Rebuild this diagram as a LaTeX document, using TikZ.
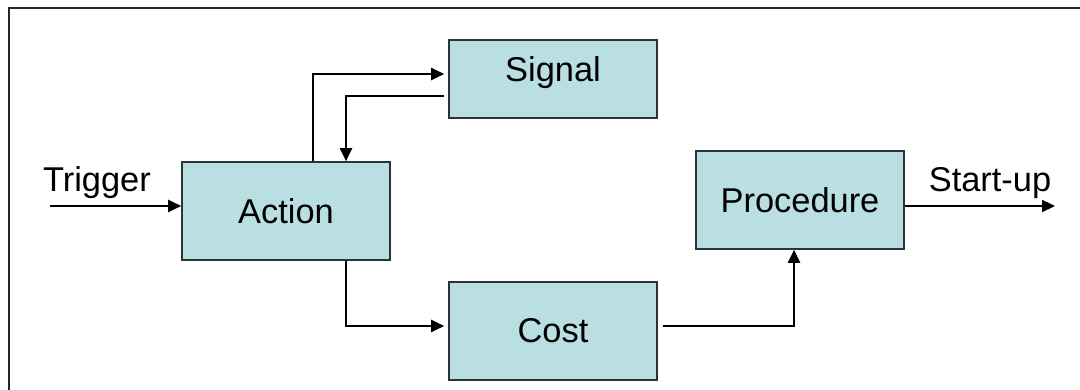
\documentclass[tikz,border=0pt]{standalone}
\usepackage{fontspec}
\setmainfont{Liberation Sans}
\usetikzlibrary{arrows.meta}
\usepackage{xcolor}
\definecolor{boxfill}{RGB}{186,223,227}
\definecolor{boxline}{RGB}{45,50,50}

\begin{document}
\begin{tikzpicture}[x=0.5pt,y=0.5pt,
  block/.style={draw=boxline,line width=0.8pt,fill=boxfill,minimum width=104pt,
    minimum height=49pt,font=\fontsize{17.2}{20}\selectfont},
  arr/.style={line width=1.1pt,-{Triangle[length=6.5pt,width=6pt]}},
  lbl/.style={font=\fontsize{17.2}{20}\selectfont,anchor=base}]

\useasboundingbox (0,0) rectangle (1080,390);
\draw[line width=1.2pt,black!85] (9,-20) |- (1100,382);

\node[block] (action) at (286,179) {Action};
\node[block,minimum height=39pt,text depth=9.5pt] (signal) at (553,311) {Signal};
\node[block] (cost) at (553,59) {Cost};
\node[block] (procedure) at (800,190) {Procedure};

\coordinate (trig) at (50,184);
\coordinate (start) at (1055,184);
\node[lbl] (trigger) at (97,198) {Trigger};
\node[lbl] (startup) at (990,198) {Start-up};

\draw[arr] (trig) -- (trig -| action.west);
\draw[arr] (start -| procedure.east) -- (start);

\draw[arr,shorten >=2pt] ([xshift=13.5pt]action.north) |- ([yshift=2.5pt]signal.west);
\draw[arr,shorten <=2pt] ([yshift=-8.5pt]signal.west) -| ([xshift=30pt]action.north);
\draw[arr,shorten >=2pt] ([xshift=30pt]action.south) |- ([yshift=2.5pt]cost.west);
\draw[arr,shorten <=2.5pt] ([yshift=2.5pt]cost.east) -| ([xshift=-3pt]procedure.south);

\end{tikzpicture}
\end{document}
